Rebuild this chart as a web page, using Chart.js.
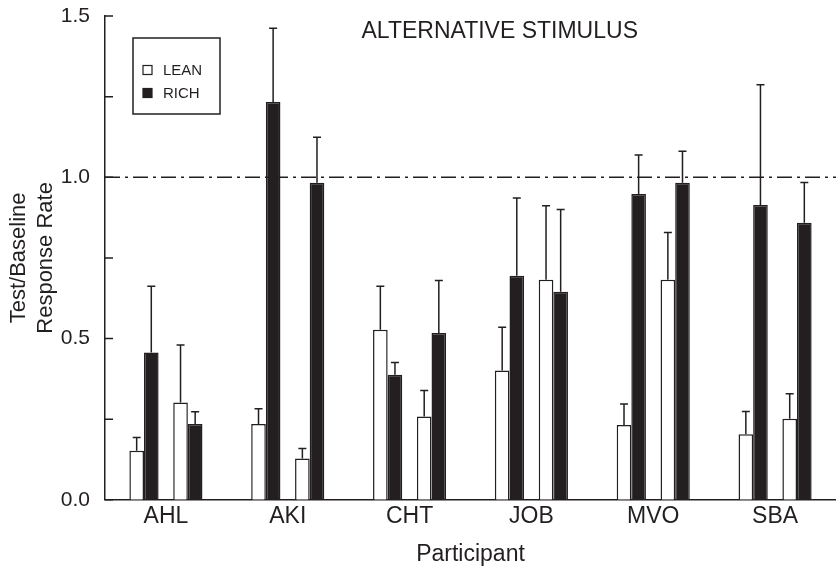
<!DOCTYPE html>
<html>
<head>
<meta charset="utf-8">
<title>Alternative stimulus</title>
<script src="https://cdn.jsdelivr.net/npm/chart.js@4/dist/chart.umd.min.js"></script>
<style>
  html, body { margin: 0; padding: 0; background: #fff; }
  canvas { display: block; }
</style>
</head>
<body>
<canvas id="chart" width="836" height="570"></canvas>
<script>
const participants = ['AHL', 'AKI', 'CHT', 'JOB', 'MVO', 'SBA'];

// first LEAN / RICH pair (mean and error above the mean)
const lean1 = [0.152, 0.235, 0.527, 0.401, 0.232, 0.203];
const lean1Err = [0.041, 0.047, 0.135, 0.134, 0.065, 0.071];
const rich1 = [0.457, 1.233, 0.388, 0.695, 0.948, 0.914];
const rich1Err = [0.205, 0.229, 0.038, 0.241, 0.121, 0.373];

// second LEAN / RICH pair
const lean2 = [0.302, 0.128, 0.258, 0.682, 0.682, 0.251];
const lean2Err = [0.178, 0.031, 0.081, 0.230, 0.147, 0.078];
const rich2 = [0.235, 0.983, 0.517, 0.645, 0.983, 0.859];
const rich2Err = [0.038, 0.141, 0.163, 0.255, 0.098, 0.125];

const labeledTicks = [0, 0.5, 1.0, 1.5];
const referenceLine = 1.0;
const chartTitle = 'ALTERNATIVE STIMULUS';
const yTitle = ['Test/Baseline', 'Response Rate'];
const xTitle = 'Participant';

const INK = '#231f20';
const FONT = "'Liberation Sans', Arial, Helvetica, sans-serif";

function leanSet(data, errors) {
  return {label: 'LEAN', data, errors, backgroundColor: '#ffffff', borderColor: INK, borderWidth: 1.5};
}
function richSet(data, errors) {
  return {label: 'RICH', data, errors, backgroundColor: INK, borderColor: INK, borderWidth: 1.5};
}

// dash-dot line at 1.0, drawn under the bars
const refLine = {
  id: 'refLine',
  beforeDatasetsDraw(chart) {
    const {ctx, chartArea, scales: {y}} = chart;
    const py = y.getPixelForValue(referenceLine);
    ctx.save();
    ctx.strokeStyle = INK;
    ctx.lineWidth = 1.5;
    ctx.setLineDash([15, 5, 3, 5]);
    ctx.beginPath();
    ctx.moveTo(chartArea.left, py);
    ctx.lineTo(chartArea.right, py);
    ctx.stroke();
    ctx.restore();
  }
};

const errorBars = {
  id: 'errorBars',
  afterDatasetsDraw(chart) {
    const {ctx, scales: {y}} = chart;
    ctx.save();
    ctx.strokeStyle = INK;
    ctx.lineWidth = 1.5;
    chart.data.datasets.forEach((ds, i) => {
      if (!ds.errors) return;
      chart.getDatasetMeta(i).data.forEach((bar, j) => {
        const top = y.getPixelForValue(ds.data[j] + ds.errors[j]);
        ctx.beginPath();
        ctx.moveTo(bar.x, bar.y);
        ctx.lineTo(bar.x, top);
        ctx.moveTo(bar.x - 4, top);
        ctx.lineTo(bar.x + 4, top);
        ctx.stroke();
      });
    });
    ctx.restore();
  }
};

// inward ticks, legend box and title
const decorations = {
  id: 'decorations',
  afterDraw(chart) {
    const {ctx, chartArea, scales: {y}} = chart;
    ctx.save();
    ctx.strokeStyle = INK;
    ctx.fillStyle = INK;
    ctx.lineWidth = 1.5;
    ctx.beginPath();
    y.ticks.forEach(t => {
      const py = y.getPixelForValue(t.value);
      ctx.moveTo(chartArea.left, py);
      ctx.lineTo(chartArea.left + 8, py);
    });
    ctx.stroke();

    // legend
    const bx = chartArea.left + 28, by = chartArea.top + 22;
    ctx.strokeRect(bx, by, 87, 76);
    ctx.font = '15px ' + FONT;
    ctx.textBaseline = 'middle';
    const seen = [];
    chart.data.datasets.forEach(ds => {
      if (!ds.label || seen.includes(ds.label)) return;
      const cy = by + 32 + seen.length * 23;
      seen.push(ds.label);
      ctx.fillStyle = ds.backgroundColor;
      ctx.fillRect(bx + 10, cy - 4.5, 9, 9);
      ctx.lineWidth = 1.2;
      ctx.strokeRect(bx + 10, cy - 4.5, 9, 9);
      ctx.fillStyle = INK;
      ctx.fillText(ds.label, bx + 30, cy + 1);
    });

    // title
    ctx.font = '23px ' + FONT;
    ctx.textAlign = 'center';
    ctx.textBaseline = 'alphabetic';
    ctx.fillText(chartTitle, chartArea.left + (chartArea.right - chartArea.left) * 0.54, chartArea.top + 22);
    ctx.restore();
  }
};

new Chart(document.getElementById('chart'), {
  type: 'bar',
  data: {
    labels: participants,
    datasets: [
      leanSet(lean1, lean1Err),
      richSet(rich1, rich1Err),
      {label: '', data: []},
      leanSet(lean2, lean2Err),
      richSet(rich2, rich2Err)
    ]
  },
  options: {
    responsive: false,
    animation: false,
    events: [],
    categoryPercentage: 0.6,
    barPercentage: 1.0,
    layout: {padding: {top: 16, right: 0, bottom: 2, left: 0}},
    plugins: {
      legend: {display: false},
      tooltip: {enabled: false}
    },
    scales: {
      x: {
        grid: {display: false, drawTicks: false},
        border: {display: true, color: INK, width: 1.5},
        ticks: {color: INK, font: {family: FONT, size: 23}, padding: 3},
        title: {display: true, text: xTitle, color: INK, font: {family: FONT, size: 23}, padding: {top: 7, bottom: 0}}
      },
      y: {
        min: 0,
        max: 1.5,
        afterFit(scale) {
          scale.width = 105;
          scale.paddingTop = 0;
          scale.paddingBottom = 0;
        },
        grid: {display: false, drawTicks: false},
        border: {display: true, color: INK, width: 1.5},
        ticks: {
          stepSize: 0.25,
          color: INK,
          padding: 15,
          font: {family: FONT, size: 21},
          callback: v => labeledTicks.includes(v) ? v.toFixed(1) : ''
        },
        title: {display: true, text: yTitle, color: INK, font: {family: FONT, size: 22, lineHeight: 1.25}, padding: {top: 5, bottom: 0}}
      }
    }
  },
  plugins: [refLine, errorBars, decorations]
});
</script>
</body>
</html>
